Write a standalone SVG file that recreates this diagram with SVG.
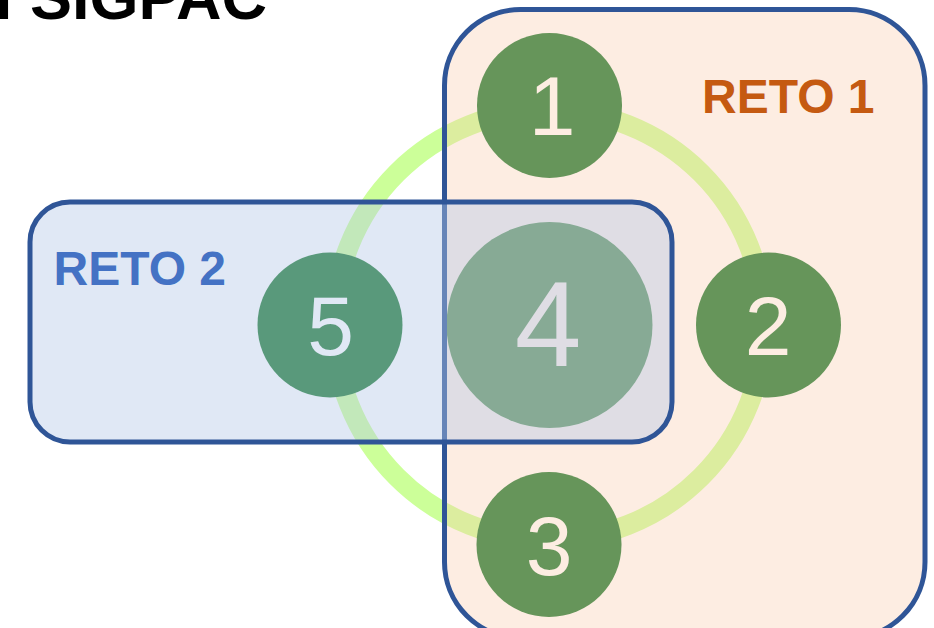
<svg xmlns="http://www.w3.org/2000/svg" width="934" height="628" viewBox="0 0 934 628">
<defs>
<style>
.ring{fill:none;stroke:#CCFF99;stroke-width:20}
.node circle{fill:#17782E}
.node text{font-family:"Liberation Sans",Arial,sans-serif;fill:#FFFFFF;text-anchor:middle}
.n{font-size:84px}
.big{font-size:120px}
.box{stroke:#2F5597;stroke-width:5}
.lbl{font-family:"Liberation Sans",Arial,sans-serif;font-weight:bold;font-size:48px}
</style>
</defs>
<rect width="934" height="628" fill="#FFFFFF"/>
<text x="-5" y="19" font-family="'Liberation Sans',Arial,sans-serif" font-weight="bold" font-size="63" fill="#000000">l SIGPAC</text>
<g id="connectors">
<circle class="ring" cx="549" cy="325" r="215"/>
</g>
<g id="node1" class="node"><circle cx="549.5" cy="105.5" r="72.5"/><text class="n" x="552" y="135">1</text></g>
<g id="node2" class="node"><circle cx="768.5" cy="325" r="72.5"/><text class="n" x="768" y="355">2</text></g>
<g id="node3" class="node"><circle cx="549" cy="544.5" r="72.5"/><text class="n" x="549" y="574.5">3</text></g>
<g id="node4" class="node"><circle cx="549.5" cy="325" r="103"/><text class="big" x="548" y="366">4</text></g>
<g id="node5" class="node"><circle cx="330" cy="325" r="72.5"/><text class="n" x="330.5" y="355">5</text></g>
<g id="reto1">
<rect class="box" x="444.5" y="9.5" width="480.5" height="628.5" rx="76" ry="76" fill="#F8CBAD" fill-opacity="0.35"/>
<text class="lbl" x="702" y="113" fill="#C55A11">RETO 1</text>
</g>
<g id="reto2">
<rect class="box" x="30" y="202" width="642" height="240" rx="40" ry="40" fill="#B4C7E7" fill-opacity="0.42"/>
<text class="lbl" x="53.5" y="285" fill="#4472C4">RETO 2</text>
</g>
</svg>
